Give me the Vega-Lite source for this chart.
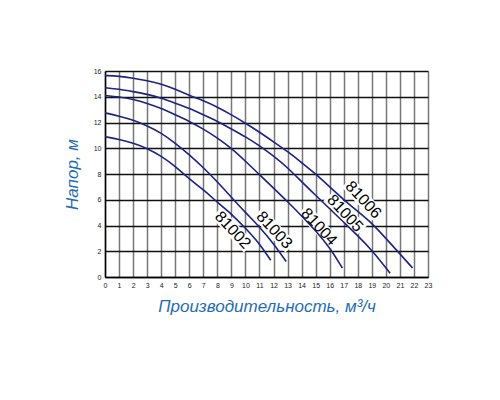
{
  "$schema": "https://vega.github.io/schema/vega-lite/v6.json",
  "width": 323,
  "height": 206,
  "autosize": {"type": "none"},
  "padding": {"left": 105, "top": 71, "right": 72, "bottom": 123},
  "background": "white",
  "config": {"view": {"stroke": null}, "font": "Liberation Sans"},
  "datasets": {
    "curves": [
      {"pump": "81002", "q": 0, "h": 10.9}, {"pump": "81002", "q": 1, "h": 10.7}, {"pump": "81002", "q": 2, "h": 10.4},
      {"pump": "81002", "q": 3, "h": 10.0}, {"pump": "81002", "q": 4, "h": 9.4}, {"pump": "81002", "q": 5, "h": 8.6},
      {"pump": "81002", "q": 6, "h": 7.6}, {"pump": "81002", "q": 7, "h": 6.8}, {"pump": "81002", "q": 8, "h": 5.8},
      {"pump": "81002", "q": 9, "h": 4.9}, {"pump": "81002", "q": 10, "h": 3.8}, {"pump": "81002", "q": 11, "h": 2.6},
      {"pump": "81002", "q": 11.8, "h": 1.3},
      {"pump": "81003", "q": 0, "h": 12.75}, {"pump": "81003", "q": 1, "h": 12.5}, {"pump": "81003", "q": 2, "h": 12.2},
      {"pump": "81003", "q": 3, "h": 11.75}, {"pump": "81003", "q": 4, "h": 11.2}, {"pump": "81003", "q": 5, "h": 10.4},
      {"pump": "81003", "q": 6, "h": 9.5}, {"pump": "81003", "q": 7, "h": 8.5}, {"pump": "81003", "q": 8, "h": 7.4},
      {"pump": "81003", "q": 9, "h": 6.2}, {"pump": "81003", "q": 10, "h": 5.0}, {"pump": "81003", "q": 11, "h": 3.9},
      {"pump": "81003", "q": 12, "h": 2.6}, {"pump": "81003", "q": 12.9, "h": 1.2},
      {"pump": "81004", "q": 0, "h": 14.1}, {"pump": "81004", "q": 1, "h": 14.0}, {"pump": "81004", "q": 2, "h": 13.8},
      {"pump": "81004", "q": 3, "h": 13.5}, {"pump": "81004", "q": 4, "h": 13.1}, {"pump": "81004", "q": 5, "h": 12.6},
      {"pump": "81004", "q": 6, "h": 12.1}, {"pump": "81004", "q": 7, "h": 11.5}, {"pump": "81004", "q": 8, "h": 10.8},
      {"pump": "81004", "q": 9, "h": 10.0}, {"pump": "81004", "q": 10, "h": 9.0}, {"pump": "81004", "q": 11, "h": 7.95},
      {"pump": "81004", "q": 12, "h": 6.9}, {"pump": "81004", "q": 13, "h": 5.85}, {"pump": "81004", "q": 14, "h": 4.75},
      {"pump": "81004", "q": 15, "h": 3.6}, {"pump": "81004", "q": 16, "h": 2.3}, {"pump": "81004", "q": 16.9, "h": 0.7},
      {"pump": "81005", "q": 0, "h": 14.7}, {"pump": "81005", "q": 1, "h": 14.6}, {"pump": "81005", "q": 2, "h": 14.4},
      {"pump": "81005", "q": 3, "h": 14.2}, {"pump": "81005", "q": 4, "h": 13.9}, {"pump": "81005", "q": 5, "h": 13.5},
      {"pump": "81005", "q": 6, "h": 13.1}, {"pump": "81005", "q": 7, "h": 12.6}, {"pump": "81005", "q": 8, "h": 12.1},
      {"pump": "81005", "q": 9, "h": 11.5}, {"pump": "81005", "q": 10, "h": 10.9}, {"pump": "81005", "q": 11, "h": 10.2},
      {"pump": "81005", "q": 12, "h": 9.4}, {"pump": "81005", "q": 13, "h": 8.5}, {"pump": "81005", "q": 14, "h": 7.4},
      {"pump": "81005", "q": 15, "h": 6.35}, {"pump": "81005", "q": 16, "h": 5.3}, {"pump": "81005", "q": 17, "h": 4.25},
      {"pump": "81005", "q": 18, "h": 3.2}, {"pump": "81005", "q": 19, "h": 2.1}, {"pump": "81005", "q": 20.3, "h": 0.3},
      {"pump": "81006", "q": 0, "h": 15.65}, {"pump": "81006", "q": 1, "h": 15.6}, {"pump": "81006", "q": 2, "h": 15.45},
      {"pump": "81006", "q": 3, "h": 15.25}, {"pump": "81006", "q": 4, "h": 15.0}, {"pump": "81006", "q": 5, "h": 14.6},
      {"pump": "81006", "q": 6, "h": 14.1}, {"pump": "81006", "q": 7, "h": 13.7}, {"pump": "81006", "q": 8, "h": 13.2},
      {"pump": "81006", "q": 9, "h": 12.6}, {"pump": "81006", "q": 10, "h": 11.95}, {"pump": "81006", "q": 11, "h": 11.25},
      {"pump": "81006", "q": 12, "h": 10.5}, {"pump": "81006", "q": 13, "h": 9.75}, {"pump": "81006", "q": 14, "h": 8.9},
      {"pump": "81006", "q": 15, "h": 8.0}, {"pump": "81006", "q": 16, "h": 7.0}, {"pump": "81006", "q": 17, "h": 6.0},
      {"pump": "81006", "q": 18, "h": 5.1}, {"pump": "81006", "q": 19, "h": 4.2}, {"pump": "81006", "q": 20, "h": 3.0},
      {"pump": "81006", "q": 21, "h": 1.8}, {"pump": "81006", "q": 21.9, "h": 0.7}
    ],
    "labels": [
      {"pump": "81002", "q": 9.1, "h": 3.65},
      {"pump": "81003", "q": 12.05, "h": 3.65},
      {"pump": "81004", "q": 15.25, "h": 3.9},
      {"pump": "81005", "q": 17.1, "h": 4.95},
      {"pump": "81006", "q": 18.4, "h": 6.0}
    ]
  },
  "encoding": {
    "x": {
      "field": "q",
      "type": "quantitative",
      "scale": {"domain": [0, 23], "nice": false},
      "axis": {
        "title": "Производительность, м³/ч",
        "values": [0, 1, 2, 3, 4, 5, 6, 7, 8, 9, 10, 11, 12, 13, 14, 15, 16, 17, 18, 19, 20, 21, 22, 23],
        "grid": true,
        "gridColor": "#777777",
        "gridWidth": 1.5,
        "gridOpacity": 1,
        "ticks": false,
        "labelFontSize": 7,
        "labelColor": "#222222",
        "labelPadding": 4,
        "labelFlush": false,
        "labelOverlap": false,
        "domainColor": "black",
        "domainWidth": 1.5,
        "titleFontSize": 17,
        "titleFontStyle": "italic",
        "titleFontWeight": "normal",
        "titleColor": "#1f6db5",
        "titlePadding": 10
      }
    },
    "y": {
      "field": "h",
      "type": "quantitative",
      "scale": {"domain": [0, 16], "nice": false},
      "axis": {
        "title": "Напор, м",
        "values": [0, 2, 4, 6, 8, 10, 12, 14, 16],
        "grid": true,
        "gridColor": "#111111",
        "gridWidth": 1.5,
        "gridOpacity": 1,
        "ticks": false,
        "labelFontSize": 7,
        "labelColor": "#222222",
        "labelPadding": 4,
        "labelFlush": false,
        "domainColor": "black",
        "domainWidth": 1.5,
        "titleFontSize": 17,
        "titleFontStyle": "italic",
        "titleFontWeight": "normal",
        "titleColor": "#1f6db5",
        "titlePadding": 12
      }
    }
  },
  "layer": [
    {
      "data": {"name": "labels"},
      "mark": {"type": "point", "shape": "M-1,-0.3L1,-0.3L1,0.3L-1,0.3Z", "size": 2304, "angle": 47, "filled": true, "color": "white", "opacity": 1}
    },
    {
      "data": {"name": "curves"},
      "mark": {"type": "line", "strokeWidth": 1.6, "color": "#1c2385", "interpolate": "basis"},
      "encoding": {"detail": {"field": "pump", "type": "nominal"}}
    },
    {
      "data": {"name": "labels"},
      "mark": {"type": "text", "angle": 47, "fontSize": 16, "color": "black", "align": "center", "baseline": "middle"},
      "encoding": {"text": {"field": "pump", "type": "nominal"}}
    }
  ]
}
